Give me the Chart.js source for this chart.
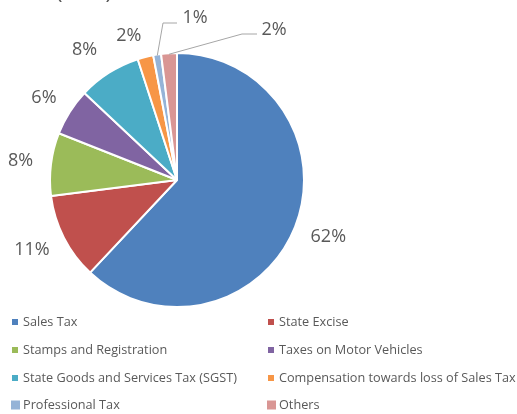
<!DOCTYPE html>
<html><head><meta charset="utf-8">
<script src="https://cdn.jsdelivr.net/npm/chart.js@4/dist/chart.umd.min.js"></script>
<style>html,body{margin:0;padding:0;background:#fff;}#wrap{width:517px;height:414px;position:relative;}</style>
</head><body><div id="wrap"><canvas id="c" width="517" height="414"></canvas></div>
<script>
const categories = ["Sales Tax","State Excise","Stamps and Registration","Taxes on Motor Vehicles","State Goods and Services Tax (SGST)","Compensation towards loss of Sales Tax","Professional Tax","Others"];
const shares = [62, 11, 8, 6, 8, 2, 1, 2];
const colors = ["#4F81BD","#C0504D","#9BBB59","#8064A2","#4BACC6","#F79646","#95B3D7","#D99694"];
const titleText = "(in %)";

const FONT = '"Open Sans", "Liberation Sans", sans-serif';

const labelPlugin = {
  id: 'pieLabels',
  afterDatasetsDraw(chart) {
    const ctx = chart.ctx;
    const meta = chart.getDatasetMeta(0);
    const ds = chart.data.datasets[0];
    ctx.save();
    ctx.font = '18px ' + FONT;
    ctx.fillStyle = '#595959';
    ctx.textAlign = 'center';
    ctx.textBaseline = 'middle';
    const leaders = {6: {elbow: [163, 23], end: [177, 23], text: [195, 18]},
                     7: {elbow: [242, 34], end: [257, 34], text: [274, 30]}};
    const nudge = {4: [-8, 0], 5: [-9, 5]};
    meta.data.forEach((arc, i) => {
      const p = arc.getProps(['x','y','startAngle','endAngle','outerRadius']);
      const mid = (p.startAngle + p.endAngle) / 2;
      const txt = ds.data[i] + '%';
      if (leaders[i]) {
        const L = leaders[i];
        const sx = p.x + Math.cos(mid) * (p.outerRadius - 1);
        const sy = p.y + Math.sin(mid) * (p.outerRadius - 1);
        ctx.strokeStyle = '#A6A6A6';
        ctx.lineWidth = 1;
        ctx.beginPath();
        ctx.moveTo(sx, sy);
        ctx.lineTo(L.elbow[0], L.elbow[1]);
        ctx.lineTo(L.end[0], L.end[1]);
        ctx.stroke();
        ctx.fillText(txt, L.text[0], L.text[1]);
      } else {
        const w = ctx.measureText(txt).width, h = 18;
        const r = p.outerRadius + 18;
        const c = Math.cos(mid), s = Math.sin(mid);
        const n = nudge[i] || [0, 0];
        ctx.fillText(txt, p.x + c * r + c * w / 2 + n[0], p.y + s * r + s * h / 2 + n[1]);
      }
    });
    ctx.font = '22px ' + FONT;
    ctx.textAlign = 'left';
    ctx.textBaseline = 'alphabetic';
    ctx.fillText(titleText, 56, -1);
    ctx.restore();
  }
};

const legendPlugin = {
  id: 'twoColLegend',
  afterDraw(chart) {
    const ctx = chart.ctx;
    ctx.save();
    ctx.font = '12.7px ' + FONT;
    ctx.textBaseline = 'middle';
    ctx.textAlign = 'left';
    const cols = [12, 268];
    const rows = [322, 350, 378, 405];
    chart.data.labels.forEach((lab, i) => {
      const col = i % 2, row = Math.floor(i / 2);
      const big = row === 3;
      const s = big ? 9 : 6;
      const bx = cols[col] - (big ? 1 : 0);
      const y = rows[row];
      ctx.fillStyle = colors[i];
      ctx.fillRect(bx, y - s / 2, s, s);
      ctx.fillStyle = '#595959';
      ctx.fillText(lab, cols[col] + 11, y + 0.5);
    });
    ctx.restore();
  }
};

new Chart(document.getElementById('c'), {
  type: 'pie',
  data: {
    labels: categories,
    datasets: [{ data: shares, backgroundColor: colors, borderColor: '#ffffff', borderWidth: 2 }]
  },
  options: {
    responsive: false,
    animation: false,
    events: [],
    layout: { padding: { top: 52, bottom: 106, left: 49, right: 212 } },
    plugins: { legend: { display: false }, tooltip: { enabled: false }, title: { display: false } }
  },
  plugins: [labelPlugin, legendPlugin]
});
</script></body></html>
